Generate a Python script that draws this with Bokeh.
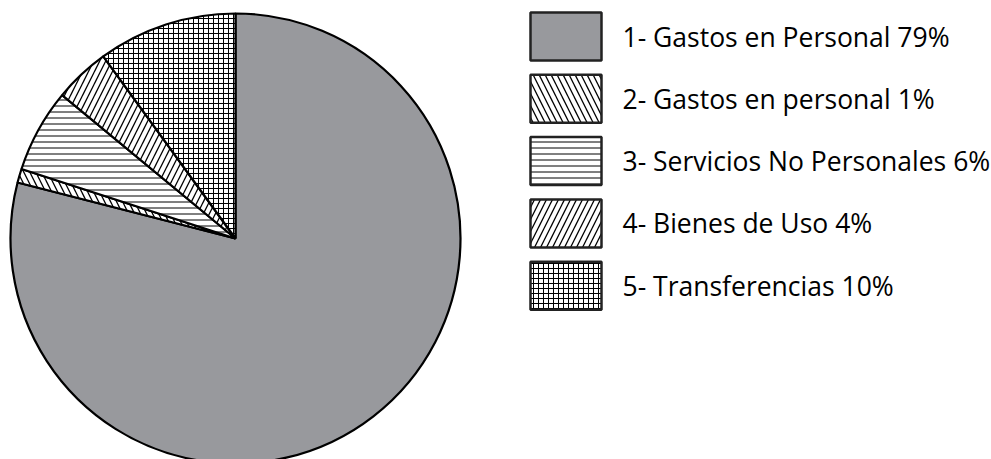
import math
from bokeh.plotting import figure
from bokeh.models import Range1d, ColumnDataSource
from bokeh.core.properties import value
from bokeh.embed import file_html
from bokeh.resources import INLINE

# ---- data ----
categories = ["Gastos en Personal", "Gastos en personal", "Servicios No Personales",
              "Bienes de Uso", "Transferencias"]
percent = [79, 1, 6, 4, 10]
labels = [f"{i + 1}- {c} {v}%" for i, (c, v) in enumerate(zip(categories, percent))]

# ---- styles ----
fills = ["#98999d", "white", "white", "white", "white"]
hatches = [" ", "\\", "-", "/", "+"]
scales = [6, 12, 6, 12, 5]
weights = [1, 1.3, 1, 1.3, 1]

W, H = 991, 459
p = figure(width=W, height=H, output_backend="svg", toolbar_location=None,
           x_range=Range1d(0, W), y_range=Range1d(0, H), min_border=0)
p.axis.visible = False
p.grid.visible = False
p.outline_line_color = None
p.background_fill_color = "white"
p.border_fill_color = "white"

# pie, clockwise from 12 o'clock
total = sum(percent)
cx, cy, r = 235, H - 238, 225
starts, ends = [], []
cum = 0.0
for v in percent:
    a0 = math.pi / 2 - 2 * math.pi * (cum + v) / total
    a1 = math.pi / 2 - 2 * math.pi * cum / total
    starts.append(a0)
    ends.append(a1)
    cum += v

src = ColumnDataSource(dict(start=starts, end=ends, fill=fills, hatch=hatches,
                            scale=scales, weight=weights, x=[cx] * 5, y=[cy] * 5))
p.wedge(x="x", y="y", radius=r, start_angle="start", end_angle="end",
        fill_color="fill", hatch_pattern="hatch", hatch_scale="scale",
        hatch_color="black", hatch_weight="weight", line_color="black", line_width=2.2,
        source=src)

# legend
lx, step = 565.5, 62.3
ly = [H - 36 - i * step for i in range(len(labels))]
lsrc = ColumnDataSource(dict(x=[lx] * 5, y=ly, fill=fills, hatch=hatches,
                             scale=scales, weight=weights, label=labels, tx=[622] * 5))
p.rect(x="x", y="y", width=71, height=48, fill_color="fill", hatch_pattern="hatch",
       hatch_scale="scale", hatch_color="black", hatch_weight="weight",
       line_color="#222222", line_width=2.5, source=lsrc)
p.text(x="tx", y="y", text="label", text_font=value("Open Sans"),
       text_font_size="26.5px", text_baseline="middle", text_align="left",
       text_color="black", source=lsrc)

open("out.html", "w").write(file_html(p, INLINE))
